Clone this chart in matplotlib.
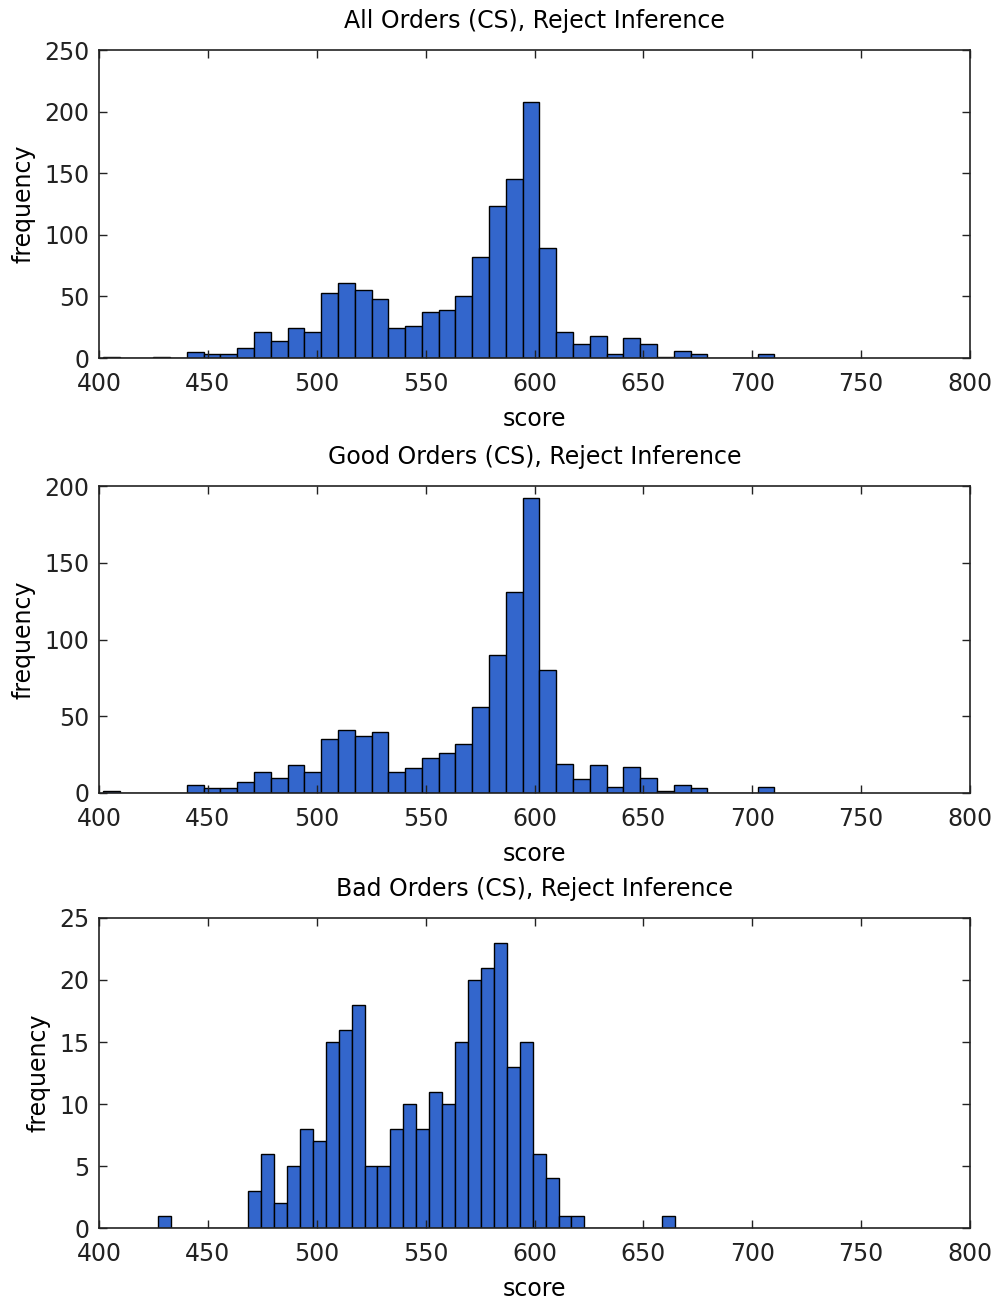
import numpy as np
import matplotlib
matplotlib.use("Agg")
import matplotlib.pyplot as plt

plt.rcParams['font.family'] = 'DejaVu Sans'

# --- data ---
titles = ["All Orders (CS), Reject Inference",
          "Good Orders (CS), Reject Inference",
          "Bad Orders (CS), Reject Inference"]

# 40 bins between min and max score of each set
all_range = (401.8, 710.2)
bad_range = (426.9, 664.5)

all_counts = [1, 0, 0, 1, 0, 5, 3, 3, 8, 21, 14, 24, 21, 53, 61, 55, 48, 24, 26, 37,
              39, 50, 82, 123, 145, 208, 89, 21, 11, 18, 3, 16, 11, 1, 6, 3, 0, 0, 0, 3]
good_counts = [1, 0, 0, 0, 0, 5, 3, 3, 7, 14, 10, 18, 14, 35, 41, 37, 40, 14, 16, 23,
               26, 32, 56, 90, 131, 192, 80, 19, 9, 18, 4, 17, 10, 1, 5, 3, 0, 0, 0, 4]
bad_counts = [1, 0, 0, 0, 0, 0, 0, 3, 6, 2, 5, 8, 7, 15, 16, 18, 5, 5, 8, 10,
              8, 11, 10, 15, 20, 21, 23, 13, 15, 6, 4, 1, 1, 0, 0, 0, 0, 0, 0, 1]

ylims = [250, 200, 25]
ysteps = [50, 50, 5]
xticks = [400, 450, 500, 550, 600, 650, 700, 750, 800]

BAR = '#3366cc'
W, H = 996, 1299
# axes boxes in pixels: (top, bottom)
boxes = [(50, 358), (486, 793), (918, 1228)]
left, right = 99, 970

fig = plt.figure(figsize=(W / 100, H / 100), dpi=100)

sets = [(all_counts, all_range), (good_counts, all_range), (bad_counts, bad_range)]
for i, ((counts, rng), (top, bot)) in enumerate(zip(sets, boxes)):
    ax = fig.add_axes([left / W, 1 - bot / H, (right - left) / W, (bot - top) / H])
    edges = np.linspace(rng[0], rng[1], len(counts) + 1)
    ax.bar(edges[:-1], counts, width=np.diff(edges), align='edge',
           color=BAR, edgecolor='black', linewidth=1.0)
    ax.set_xlim(400, 800)
    ax.set_ylim(0, ylims[i])
    ax.set_xticks(xticks)
    ax.set_yticks(np.arange(0, ylims[i] + 1, ysteps[i]))
    ax.tick_params(direction='in', top=True, right=True, length=6, width=1,
                   labelsize=17, colors='#222222')
    ax.tick_params(axis='x', pad=10)
    ax.tick_params(axis='y', pad=7)
    for s in ax.spines.values():
        s.set_linewidth(1.2)
        s.set_color('#222222')
    ax.set_title(titles[i], fontsize=17, pad=16)
    ax.set_xlabel("score", fontsize=17, labelpad=8)
    ax.set_ylabel("frequency", fontsize=17, labelpad=6)

fig.savefig("out.png", dpi=100)
